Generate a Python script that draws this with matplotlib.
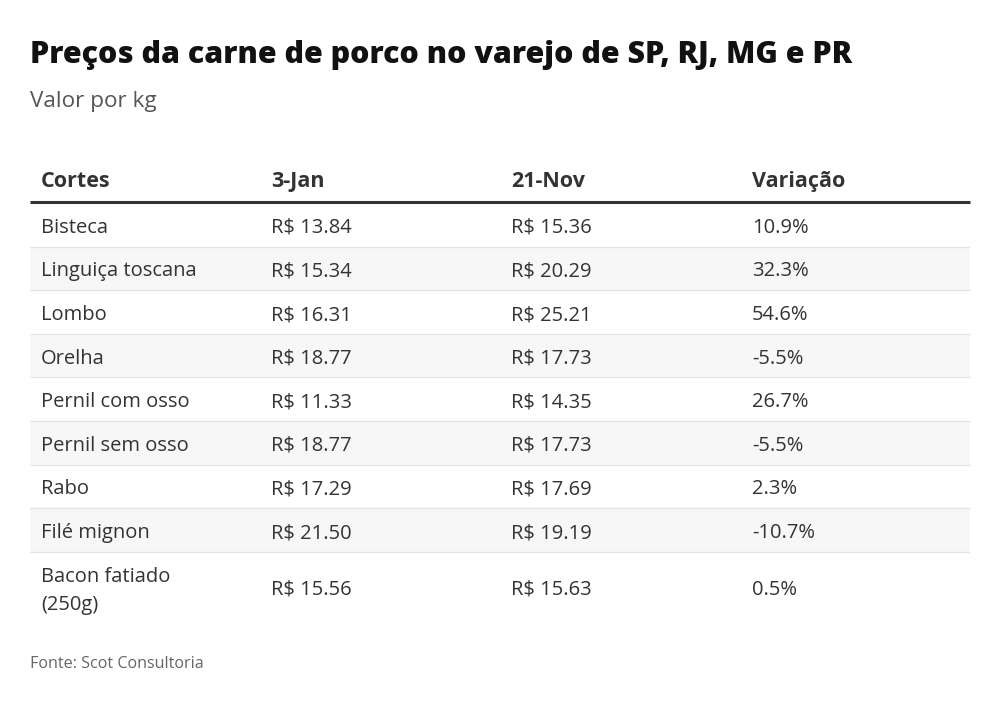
import matplotlib
matplotlib.use("Agg")
import matplotlib.pyplot as plt
from matplotlib.patches import Rectangle

title = "Preços da carne de porco no varejo de SP, RJ, MG e PR"
subtitle = "Valor por kg"
source = "Fonte: Scot Consultoria"
headers = ["Cortes", "3-Jan", "21-Nov", "Variação"]
cortes = ["Bisteca", "Linguiça toscana", "Lombo", "Orelha", "Pernil com osso",
          "Pernil sem osso", "Rabo", "Filé mignon", "Bacon fatiado\n(250g)"]
jan = [13.84, 15.34, 16.31, 18.77, 11.33, 18.77, 17.29, 21.50, 15.56]
nov = [15.36, 20.29, 25.21, 17.73, 14.35, 17.73, 17.69, 19.19, 15.63]
variacao = [10.9, 32.3, 54.6, -5.5, 26.7, -5.5, 2.3, -10.7, 0.5]

W, H = 1000, 704
fig = plt.figure(figsize=(W / 100, H / 100), dpi=100)
ax = fig.add_axes([0, 0, 1, 1])
ax.set_xlim(0, W)
ax.set_ylim(H, 0)
ax.axis("off")

FONT = "Open Sans"
dark = "#333333"

# title, fitted to width
t = ax.text(30, 63, title, fontsize=25, fontweight="heavy", family=FONT,
            color="#111111", va="baseline", ha="left")
fig.canvas.draw()
r = fig.canvas.get_renderer()
bb = t.get_window_extent(r)
target = 822
t.set_fontsize(25 * target / bb.width)

ax.text(30, 107, subtitle, fontsize=16.2, family=FONT, color="#555555",
        va="baseline", ha="left")

col_x = [41, 271, 511, 752]
left, right = 30, 970

# header
for x, h in zip(col_x, headers):
    ax.text(x, 187, h, fontsize=15.5, fontweight="bold", family=FONT,
            color=dark, va="baseline", ha="left")

top = 203
rh = 43.6
heights = [rh] * 8 + [70]
y = top
for i, (c, a, b, v) in enumerate(zip(cortes, jan, nov, variacao)):
    h = heights[i]
    if i % 2 == 1:
        ax.add_patch(Rectangle((left, y), right - left, h, facecolor="#f7f7f7",
                               edgecolor="none", zorder=0))
    if i < len(cortes) - 1:
        ax.plot([left, right], [y + h, y + h], color="#e4e4e4", lw=1.0, zorder=1,
                solid_capstyle="butt")
    mid = y + h / 2
    lines = c.split("\n")
    if len(lines) == 1:
        ax.text(col_x[0], mid + 8, c, fontsize=14.5, family=FONT, color=dark,
                va="baseline", ha="left")
    else:
        ax.text(col_x[0], mid - 5, lines[0], fontsize=14.5, family=FONT, color=dark,
                va="baseline", ha="left")
        ax.text(col_x[0], mid + 23, lines[1], fontsize=14.5, family=FONT, color=dark,
                va="baseline", ha="left")
    ax.text(col_x[1], mid + 8, f"R$ {a:.2f}", fontsize=14.5, family=FONT,
            color=dark, va="baseline", ha="left")
    ax.text(col_x[2], mid + 8, f"R$ {b:.2f}", fontsize=14.5, family=FONT,
            color=dark, va="baseline", ha="left")
    ax.text(col_x[3], mid + 8, f"{v:.1f}%", fontsize=14.5, family=FONT,
            color=dark, va="baseline", ha="left")
    y += h

ax.plot([left, right], [202, 202], color=dark, lw=2.2, zorder=2,
        solid_capstyle="butt")

ax.text(30, 668, source, fontsize=11.6, family=FONT, color="#666666",
        va="baseline", ha="left")

fig.savefig("out.png", dpi=100)
